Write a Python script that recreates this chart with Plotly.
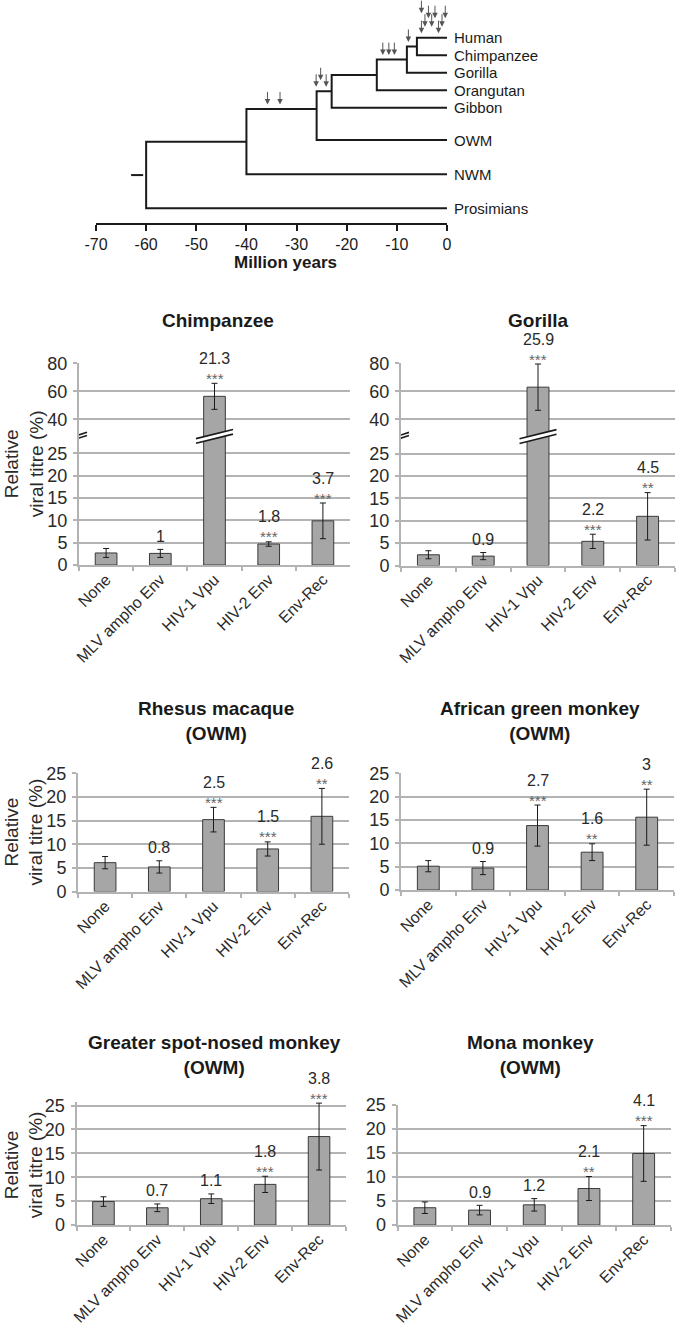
import plotly.graph_objects as go

W, H = 678, 1325
OFF = 0  # page body margin is removed below, so screen pixels == figure pixels
FONT = "Liberation Sans, Arial, Helvetica, sans-serif"
INK = "#1a1a1a"
GRID = "#b3b3b3"
BAR_FILL = "#a6a6a6"
BAR_LINE = "#3a3a3a"


def fx(px):
    return (px - OFF) / W


def fy(py):
    return 1 - (py - OFF) / H


# ---------------- Tree data ----------------
leaf_names = ["Human", "Chimpanzee", "Gorilla", "Orangutan", "Gibbon", "OWM", "NWM", "Prosimians"]
leaf_rows = [0, 1, 2, 3, 4, 5.85, 7.8, 9.75]
node_ids = ["n0", "n1", "n2", "n3", "n4", "n5", "n6"]
node_ages = [-6, -8, -14, -23, -26, -40, -60]
node_rows = [0.5, 1.25, 2.125, 3.06, 4.07, 5.94, 7.85]
node_children = [("Human", "Chimpanzee"), ("n0", "Gorilla"), ("n1", "Orangutan"),
                 ("n2", "Gibbon"), ("n3", "OWM"), ("n4", "NWM"), ("n5", "Prosimians")]
root_stub = (-63, -60.6)
time_ticks = [-70, -60, -50, -40, -30, -20, -10, 0]

# selection events (arrows): age, branch row, stacking level
arrow_ages = [-35.8, -33.3, -26.1, -25.2, -24.1, -12.8, -11.6, -10.5, -7.7,
              -5.1, -5.1, -4.4, -3.7, -3.05, -2.4, -1.7, -1.0, -0.35]
arrow_rows = [4.07, 4.07, 3.06, 3.06, 3.06, 1.25, 1.25, 1.25, 0.5,
              0, 0, 0, 0, 0, 0, 0, 0, 0]
arrow_levels = [0, 0, 0, 1, 0, 0, 0, 0, 0,
                0, 3, 1, 2, 1, 2, 0, 1, 2]

# ---------------- Bar chart data ----------------
categories = ["None", "MLV ampho Env", "HIV-1 Vpu", "HIV-2 Env", "Env-Rec"]
panel_titles = ["Chimpanzee", "Gorilla", "Rhesus macaque<br>(OWM)", "African green monkey<br>(OWM)",
                "Greater spot-nosed monkey<br>(OWM)", "Mona monkey<br>(OWM)"]

chimp_vals = [2.7, 2.6, 56.4, 4.7, 9.9]
chimp_err = [1.0, 0.9, 9.3, 0.5, 4.0]
chimp_fold = ["", "1", "21.3", "1.8", "3.7"]
chimp_sig = ["", "", "***", "***", "***"]

gorilla_vals = [2.4, 2.1, 63.0, 5.4, 11.0]
gorilla_err = [0.9, 0.8, 16.5, 1.6, 5.3]
gorilla_fold = ["", "0.9", "25.9", "2.2", "4.5"]
gorilla_sig = ["", "", "***", "***", "**"]

rhesus_vals = [6.1, 5.2, 15.2, 9.0, 15.9]
rhesus_err = [1.3, 1.3, 2.6, 1.5, 5.9]
rhesus_fold = ["", "0.8", "2.5", "1.5", "2.6"]
rhesus_sig = ["", "", "***", "***", "**"]

agm_vals = [5.1, 4.7, 13.8, 8.1, 15.6]
agm_err = [1.2, 1.4, 4.4, 1.8, 6.0]
agm_fold = ["", "0.9", "2.7", "1.6", "3"]
agm_sig = ["", "", "***", "**", "**"]

gsn_vals = [4.9, 3.6, 5.5, 8.5, 18.5]
gsn_err = [1.0, 0.8, 1.0, 1.7, 7.0]
gsn_fold = ["", "0.7", "1.1", "1.8", "3.8"]
gsn_sig = ["", "", "", "***", "***"]

mona_vals = [3.6, 3.1, 4.2, 7.6, 14.9]
mona_err = [1.2, 1.0, 1.3, 2.5, 5.8]
mona_fold = ["", "0.9", "1.2", "2.1", "4.1"]
mona_sig = ["", "", "", "**", "***"]

broken_ticks = [0, 5, 10, 15, 20, 25, 40, 60, 80]
plain_ticks = [0, 5, 10, 15, 20, 25]

# ---------------- broken-axis scale ----------------
BRK_LO, BRK_HI, GAP, UP = 25, 40, 7.67, 0.3138


def tf(v):
    return v if v <= BRK_LO else BRK_LO + GAP + (v - BRK_HI) * UP


fig = go.Figure()
annotations = []
shapes = []

# ---------------- Tree ----------------
pos = {n: (0, r) for n, r in zip(leaf_names, leaf_rows)}
xs, ys = [], []
for nid, age, row, (c1, c2) in zip(node_ids, node_ages, node_rows, node_children):
    x1, y1 = pos[c1]
    x2, y2 = pos[c2]
    xs += [x1, age, age, x2, None]
    ys += [y1, y1, y2, y2, None]
    pos[nid] = (age, row)
xs += [root_stub[0], root_stub[1], None]
ys += [node_rows[-1], node_rows[-1], None]
fig.add_trace(go.Scatter(x=xs, y=ys, mode="lines", line=dict(color=INK, width=2),
                         xaxis="x", yaxis="y", hoverinfo="skip", showlegend=False))

TREE_X0, TREE_X1, TREE_Y1 = 96, 447, 223
ROW0_PX, ROW_PX = 37.7, 17.5
row_top = (OFF - ROW0_PX) / ROW_PX
row_bot = (TREE_Y1 - ROW0_PX) / ROW_PX
for name, row in zip(leaf_names, leaf_rows):
    annotations.append(dict(xref="paper", yref="y", x=fx(TREE_X1 + 5), y=row, text=name,
                            showarrow=False, xanchor="left", yanchor="middle",
                            font=dict(size=15, color=INK, family=FONT)))
level_px = [4.5, 11, 19.5, 24.5]
for a, r, lv in zip(arrow_ages, arrow_rows, arrow_levels):
    annotations.append(dict(xref="x", yref="y", x=a, y=r, text="", showarrow=True,
                            ax=0, ay=-14, yshift=level_px[lv], arrowhead=2, arrowsize=1.1,
                            arrowwidth=1, arrowcolor="#555555", standoff=0))
annotations.append(dict(xref="paper", yref="paper", x=fx(285), y=fy(262),
                        text="<b>Million years</b>", showarrow=False,
                        xanchor="center", yanchor="middle",
                        font=dict(size=17, color=INK, family=FONT)))

layout = dict(
    xaxis=dict(domain=[fx(TREE_X0), fx(TREE_X1)], anchor="y", range=[-70, 0],
               tickvals=time_ticks, ticktext=[str(t) for t in time_ticks],
               showline=True, linecolor=INK, linewidth=2, ticks="outside", ticklen=6,
               tickwidth=2, tickcolor=INK, showgrid=False, zeroline=False, automargin=False,
               tickfont=dict(size=16, color=INK, family=FONT)),
    yaxis=dict(domain=[fy(TREE_Y1), 1], anchor="x", range=[row_bot, row_top],
               visible=False, showgrid=False, zeroline=False, automargin=False),
)

# ---------------- Bar panels ----------------
panels = [
    (chimp_vals, chimp_err, chimp_fold, chimp_sig),
    (gorilla_vals, gorilla_err, gorilla_fold, gorilla_sig),
    (rhesus_vals, rhesus_err, rhesus_fold, rhesus_sig),
    (agm_vals, agm_err, agm_fold, agm_sig),
    (gsn_vals, gsn_err, gsn_fold, gsn_sig),
    (mona_vals, mona_err, mona_fold, mona_sig),
]
# screen pixel boxes: (left, right, top-gridline, bottom)
boxes = [(79, 350, 363.3, 565), (401, 675, 363.3, 565.5),
         (78, 349, 773.3, 891.5), (401, 674, 773.3, 890),
         (76.5, 346, 1105.5, 1225), (397.5, 671, 1105, 1225)]
title_y = [320.7, 320.7, 721.3, 721.3, 1055.3, 1055.3]
title_x = [218, 538, 216, 540, 214, 530]

for k, ((vals, errs, folds, sigs), (l, r, t, b)) in enumerate(zip(panels, boxes)):
    n = k + 2
    broken = k < 2
    scale = tf if broken else (lambda v: v)
    ty = [scale(v) for v in vals]
    up = [scale(v + e) - scale(v) for v, e in zip(vals, errs)]
    dn = [scale(v) - scale(v - e) for v, e in zip(vals, errs)]
    fig.add_trace(go.Bar(x=categories, y=ty, xaxis=f"x{n}", yaxis=f"y{n}", width=0.4,
                         marker=dict(color=BAR_FILL, line=dict(color=BAR_LINE, width=1)),
                         error_y=dict(type="data", symmetric=False, array=up, arrayminus=dn,
                                      color=INK, thickness=1, width=3),
                         hoverinfo="skip", showlegend=False))
    ticks = broken_ticks if broken else plain_ticks
    grid_top = tf(80) if broken else 25
    # small headroom so that error caps above the top gridline stay visible
    ymax = max(grid_top, max(scale(v + e) for v, e in zip(vals, errs)) + 0.25)
    pxu = (b - t) / grid_top
    top_px = b - ymax * pxu
    layout[f"xaxis{n}"] = dict(domain=[fx(l), fx(r)], anchor=f"y{n}", type="category",
                               categoryorder="array", categoryarray=categories,
                               range=[-0.5, 4.5], tickangle=-45, automargin=False,
                               tickfont=dict(size=16, color="#2a2a2a", family=FONT),
                               ticklabelstandoff=-3,
                               showline=True, linecolor=GRID, linewidth=2,
                               ticks="outside", tickson="boundaries", ticklen=4,
                               tickwidth=2, tickcolor=GRID, showgrid=False, zeroline=False)
    layout[f"yaxis{n}"] = dict(domain=[fy(b), fy(top_px)], anchor=f"x{n}",
                               range=[0, ymax], tickvals=[scale(v) for v in ticks],
                               ticktext=[str(v) for v in ticks], automargin=False,
                               tickfont=dict(size=18, color="#2a2a2a", family=FONT),
                               showgrid=True, gridcolor=GRID, gridwidth=2,
                               showline=True, linecolor=GRID, linewidth=2,
                               ticks="outside", ticklen=4, tickwidth=2, tickcolor=GRID,
                               zeroline=False, ticklabelstandoff=2)
    # fold-change and significance labels (domain-referenced so they never get hidden)
    for cat, v, e, f, s in zip(categories, vals, errs, folds, sigs):
        yfrac = scale(v + e) / ymax
        if s:
            annotations.append(dict(xref=f"x{n}", yref=f"y{n} domain", x=cat, y=yfrac,
                                    text=s, showarrow=False, yanchor="middle", yshift=5,
                                    font=dict(size=15, color="#666666", family=FONT)))
        if f:
            annotations.append(dict(xref=f"x{n}", yref=f"y{n} domain", x=cat, y=yfrac,
                                    text=f, showarrow=False, yanchor="middle",
                                    yshift=25 if s else 13,
                                    font=dict(size=16, color="#2a2a2a", family=FONT)))
    # panel title
    annotations.append(dict(xref="paper", yref="paper", x=fx(title_x[k]), y=fy(title_y[k]),
                            text=f"<b>{panel_titles[k]}</b>", showarrow=False,
                            xanchor="center", yanchor="middle",
                            font=dict(size=19, color=INK, family=FONT)))
    # y-axis title (left column only)
    if k % 2 == 0:
        annotations.append(dict(xref="paper", yref="paper", x=fx(24), y=fy((t + b) / 2),
                                text="Relative<br>viral titre (%)", showarrow=False,
                                textangle=-90, xanchor="center", yanchor="middle",
                                font=dict(size=19, color="#2a2a2a", family=FONT)))
    # axis-break marks
    if broken:
        brk_y = BRK_LO + GAP / 2
        for anchor_x, hw, dy, sep in [(-0.5, 8, 2.6, 1.6), (2, 18.5, 4.6, 2.35)]:
            common = dict(xref=f"x{n}", yref=f"y{n}", xsizemode="pixel", ysizemode="pixel",
                          xanchor=anchor_x, yanchor=brk_y, type="path", layer="above")
            lo0, lo1 = -dy - sep, dy - sep
            hi0, hi1 = -dy + sep, dy + sep
            shapes.append(dict(common, path=f"M {-hw},{lo0} L {hw},{lo1} L {hw},{hi1} L {-hw},{hi0} Z",
                               fillcolor="white", line=dict(width=0)))
            shapes.append(dict(common, path=f"M {-hw},{lo0} L {hw},{lo1}",
                               line=dict(color=INK, width=1.6)))
            shapes.append(dict(common, path=f"M {-hw},{hi0} L {hw},{hi1}",
                               line=dict(color=INK, width=1.6)))

fig.update_layout(**layout)
fig.update_layout(template="none", width=W, height=H, margin=dict(l=0, r=0, t=0, b=0, pad=0),
                  paper_bgcolor="white", plot_bgcolor="white",
                  font=dict(family=FONT, color=INK), showlegend=False,
                  annotations=annotations, shapes=shapes, bargap=0.6)
fig.write_html("out.html", config={"displayModeBar": False, "staticPlot": True},
               post_script="document.body.style.margin='0px'; document.body.style.overflow='hidden';")
